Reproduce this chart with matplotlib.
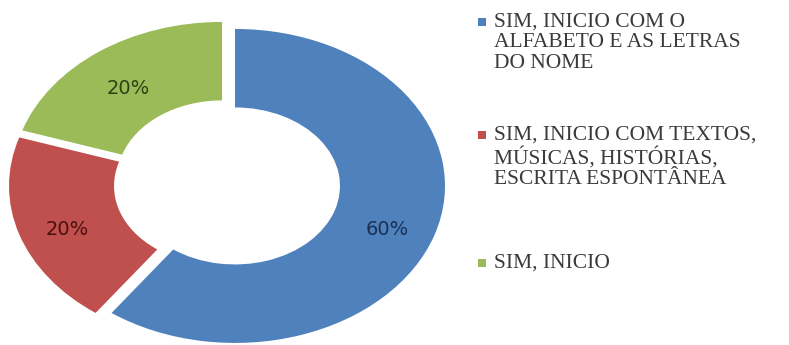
import matplotlib.pyplot as plt
from matplotlib.patches import Rectangle

# dados do gráfico
rotulos = ["SIM, INICIO COM O\nALFABETO E AS LETRAS\nDO NOME",
           "SIM, INICIO COM TEXTOS,\nMÚSICAS, HISTÓRIAS,\nESCRITA ESPONTÂNEA",
           "SIM, INICIO"]
valores = [60, 20, 20]
cores = ["#4F81BD", "#C0504D", "#9BBB59"]
cores_pct = ["#1b2f52", "#4a0f0f", "#2c4210"]

W, H = 789, 345
fig = plt.figure(figsize=(W / 100, H / 100), dpi=100)

# eixo esticado para a rosca sair elíptica (como no original)
esc_x, esc_y = 210, 157   # px por unidade
cx, cy = 227, H - 184     # centro em px
lim = 1.2
ax = fig.add_axes([(cx - lim * esc_x) / W, (cy - lim * esc_y) / H,
                   2 * lim * esc_x / W, 2 * lim * esc_y / H])

wedges, textos, pcts = ax.pie(
    valores, colors=cores, startangle=90, counterclock=False,
    explode=[0.04, 0.04, 0.04], autopct="%d%%", pctdistance=0.76,
    wedgeprops=dict(width=0.5, linewidth=0),
    textprops=dict(fontsize=14))
for t, c in zip(pcts, cores_pct):
    t.set_color(c)
    x, y = t.get_position()
    t.set_position((x, y - 0.04))
ax.set_aspect("auto")
ax.set_xlim(-lim, lim)
ax.set_ylim(-lim, lim)
ax.axis("off")

# legenda feita à mão (marcador alinhado à primeira linha)
y_leg = [22, 135, 263]
for rot, cor, y in zip(rotulos, cores, y_leg):
    fig.patches.append(Rectangle(((478) / W, (H - y - 4) / H), 8 / W, 8 / H,
                                 transform=fig.transFigure, facecolor=cor,
                                 edgecolor="none"))
    fig.text(494 / W, (H - y + 9) / H, rot, family="Liberation Serif", fontsize=15.5,
             color="#3a3a3a", va="top", linespacing=1.1,
             transform=fig.transFigure)

fig.savefig("out.png", dpi=100, facecolor="white")
